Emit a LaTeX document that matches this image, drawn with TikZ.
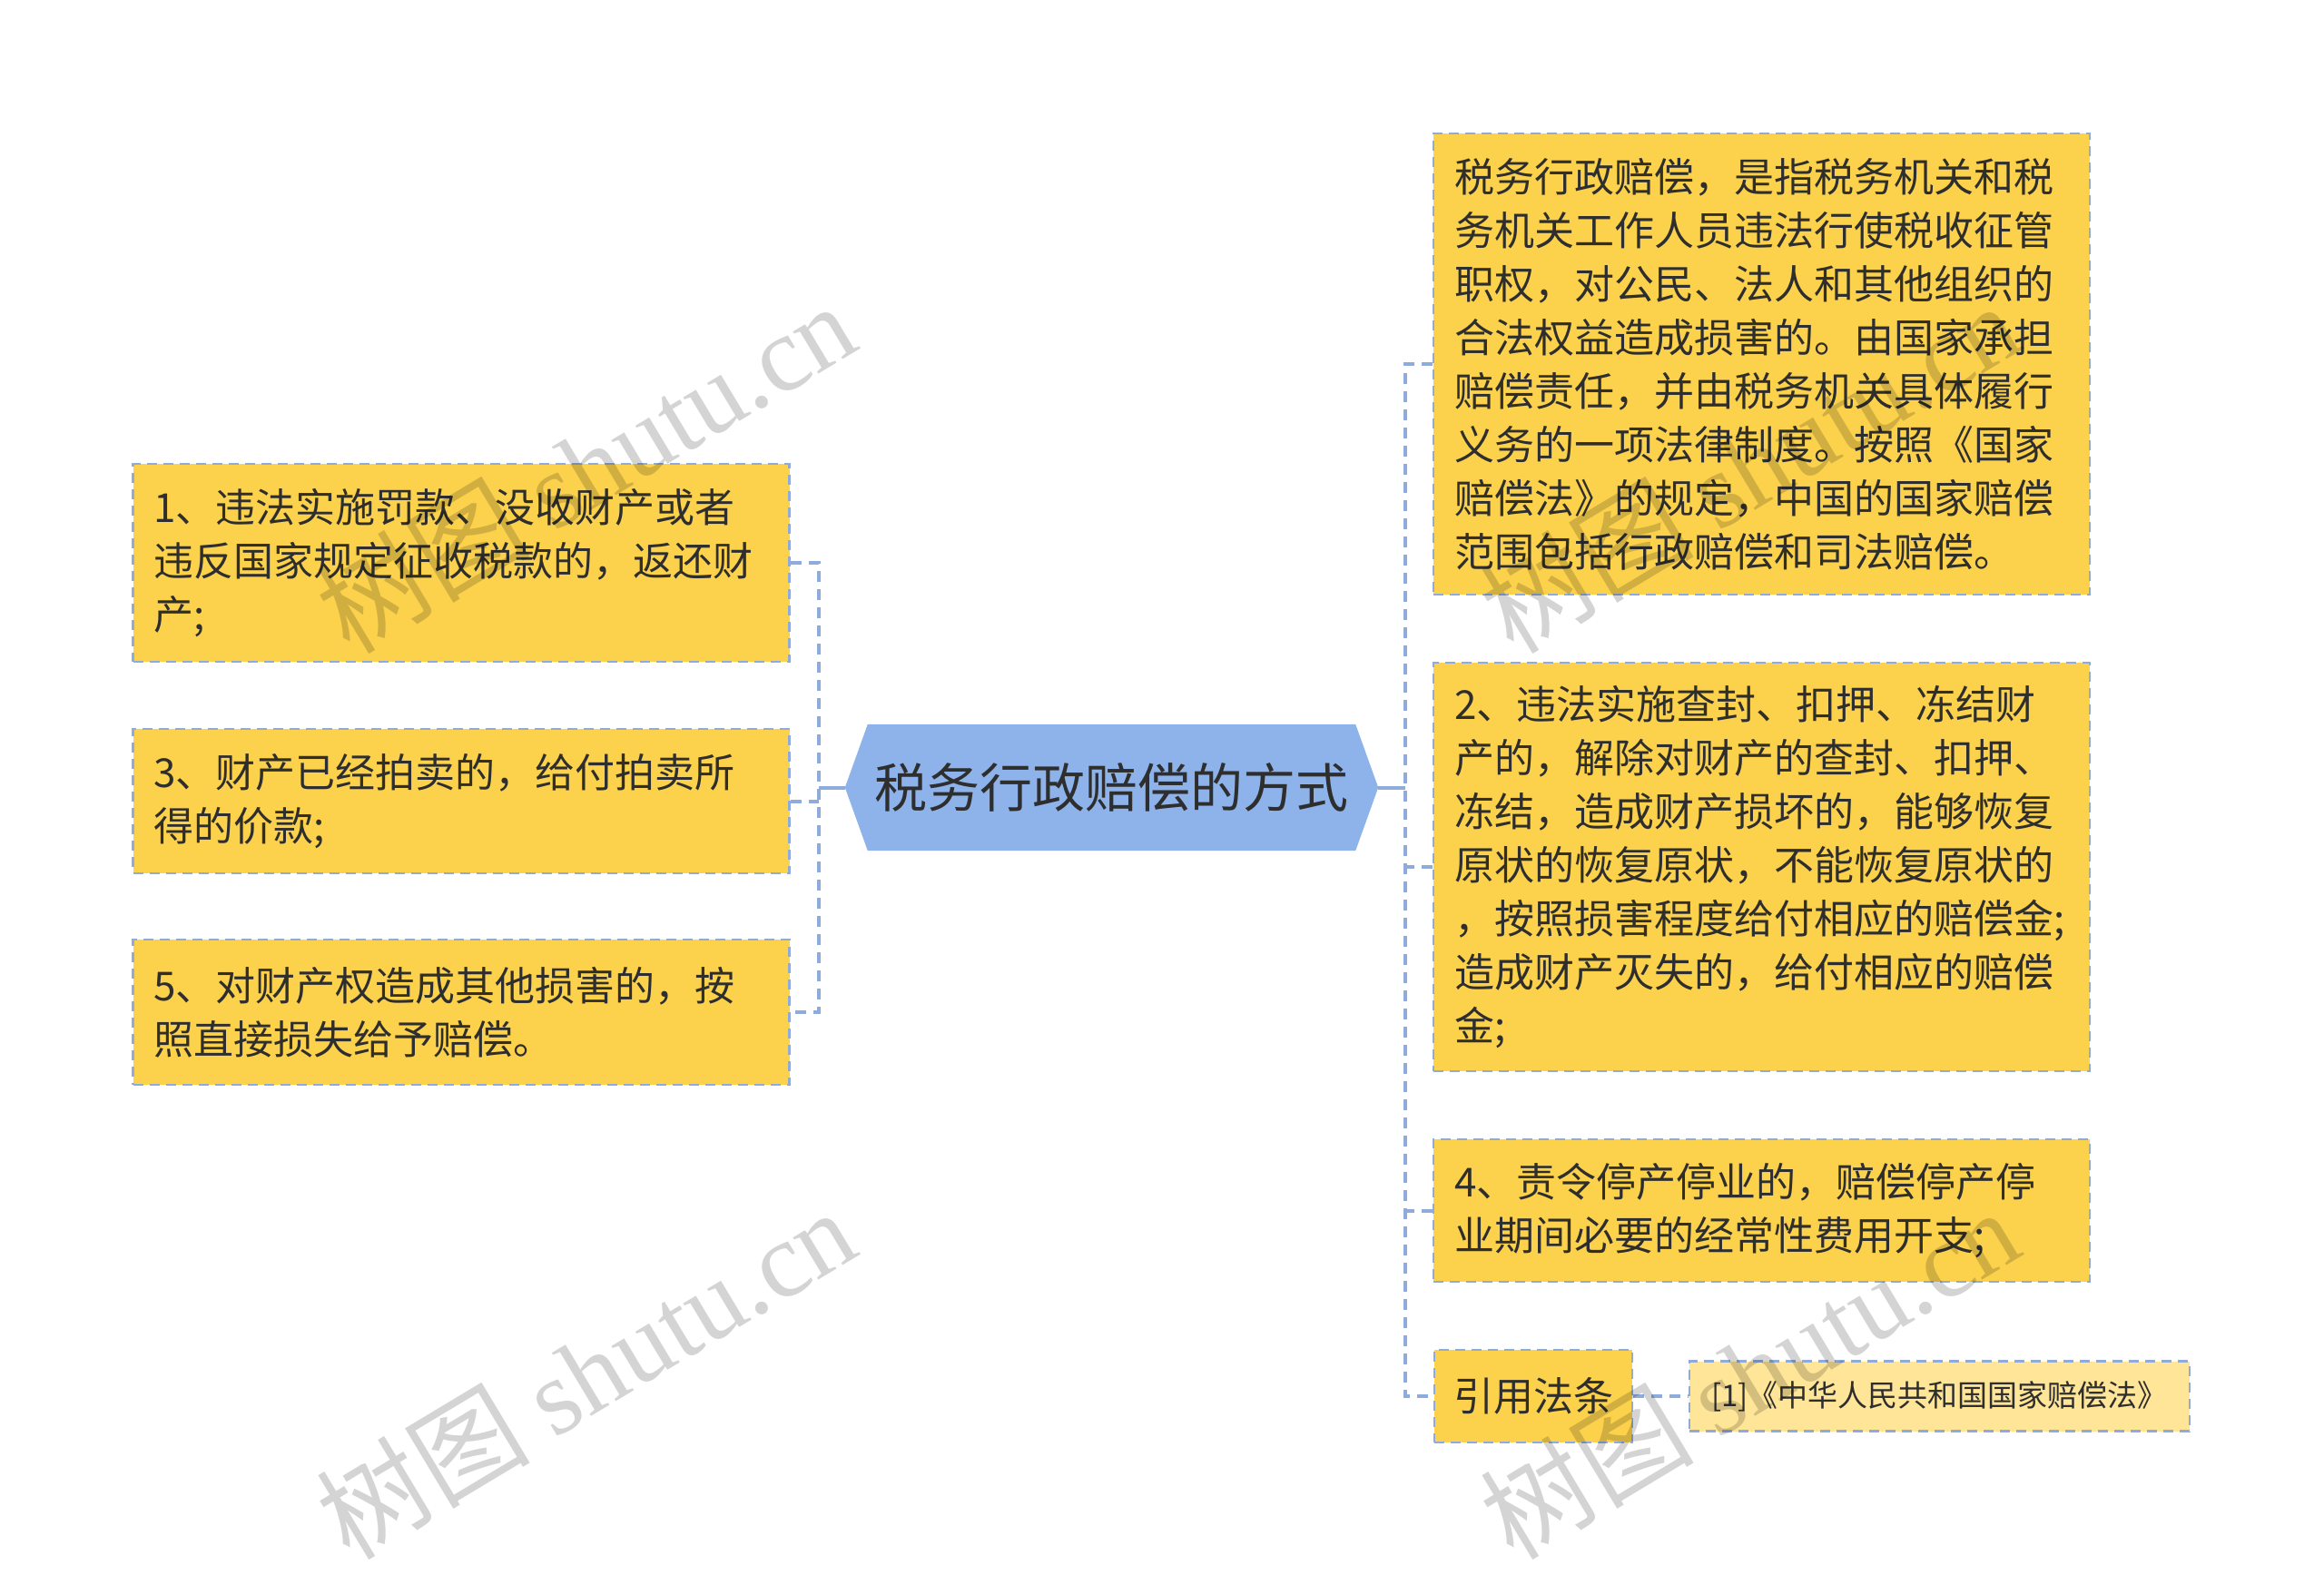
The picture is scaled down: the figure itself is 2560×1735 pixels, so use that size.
\documentclass[tikz,border=0pt]{standalone}
\usepackage{fontspec}
\setmainfont{Noto Sans CJK SC}
\newfontfamily\wmlatin{Liberation Serif}
\definecolor{boxfill}{HTML}{FCD24D}
\definecolor{citefill}{HTML}{FFE598}
\definecolor{bordercol}{HTML}{8FABDC}
\definecolor{hexfill}{HTML}{8EB3EA}
\definecolor{txt}{HTML}{2E2E2E}
\begin{document}
\begin{tikzpicture}[x=1pt,y=-1pt,
  box/.style={draw=bordercol, line width=2.5pt, dash pattern=on 11pt off 7pt,
    fill=boxfill, text=txt, align=left, text width=677pt, inner xsep=23pt,
    inner ysep=0pt, minimum width=723pt, font=\fontsize{44}{59}\selectfont},
  smallbox/.style={draw=bordercol, line width=2.5pt, dash pattern=on 11pt off 7pt,
    fill=boxfill, text=txt, align=center, inner sep=0pt, font=\fontsize{44}{59}\selectfont},
  citebox/.style={draw=bordercol, line width=2.5pt, dash pattern=on 11pt off 7pt,
    fill=citefill, text=txt, align=center, inner sep=0pt, font=\fontsize{33}{40}\selectfont},
  dconn/.style={draw=bordercol, line width=4pt, dash pattern=on 12pt off 8pt},
  sconn/.style={draw=bordercol, line width=4pt},
  wm/.style={text=black, text opacity=0.17, rotate=31, inner sep=0pt,
    font=\fontsize{118}{124}\selectfont}
]
\useasboundingbox (0,0) rectangle (2560,1735);

% central node
\node[minimum width=587pt, minimum height=139pt, inner sep=0pt] (center) at (1224.5,867.5) {};
\fill[hexfill] (center.west) -- ([xshift=25pt]center.north west) -- ([xshift=-25pt]center.north east)
  -- (center.east) -- ([xshift=-25pt]center.south east) -- ([xshift=25pt]center.south west) -- cycle;
\node[text=txt, font=\fontsize{58}{64}\selectfont, inner sep=0pt] (centertext) at (center) {税务行政赔偿的方式};

% left boxes
\node[box, minimum height=218pt] (b1) at (508,620) {1、违法实施罚款、没收财产或者\\违反国家规定征收税款的，返还财\\产;};
\node[box, minimum height=159pt] (b3) at (508,882.5) {3、财产已经拍卖的，给付拍卖所\\得的价款;};
\node[box, minimum height=160pt] (b5) at (508,1115) {5、对财产权造成其他损害的，按\\照直接损失给予赔偿。};

% right boxes
\node[box, minimum height=508pt] (bA) at (1940.5,401) {税务行政赔偿，是指税务机关和税\\务机关工作人员违法行使税收征管\\职权，对公民、法人和其他组织的\\合法权益造成损害的。由国家承担\\赔偿责任，并由税务机关具体履行\\义务的一项法律制度。按照《国家\\赔偿法》的规定，中国的国家赔偿\\范围包括行政赔偿和司法赔偿。};
\node[box, minimum height=450pt] (b2) at (1940.5,955) {2、违法实施查封、扣押、冻结财\\产的，解除对财产的查封、扣押、\\冻结，造成财产损坏的，能够恢复\\原状的恢复原状，不能恢复原状的\\，按照损害程度给付相应的赔偿金;\\造成财产灭失的，给付相应的赔偿\\金;};
\node[box, minimum height=157pt] (b4) at (1940.5,1333.5) {4、责令停产停业的，赔偿停产停\\业期间必要的经常性费用开支;};
\node[smallbox, minimum width=218pt, minimum height=102pt] (law) at (1689,1538) {引用法条};
\node[citebox, minimum width=551pt, minimum height=77pt] (cite) at (2136.5,1538) {[1]《中华人民共和国国家赔偿法》};

% connectors
\coordinate (lbus) at (902,867.5);
\coordinate (rbus) at (1548,867.5);
\draw[sconn] (center.west) -- (lbus);
\draw[sconn] (center.east) -- (rbus);
\draw[dconn] (b1.east) -- (b1.east -| lbus) -- (b5.east -| lbus) -- (b5.east);
\draw[dconn] (b3.east) -- (b3.east -| lbus);
\draw[dconn] (bA.west) -- (bA.west -| rbus) -- (law.west -| rbus) -- (law.west);
\draw[dconn] (b2.west) -- (b2.west -| rbus);
\draw[dconn] (b4.west) -- (b4.west -| rbus);
\draw[dconn] (law.east) -- (cite.west);

% watermarks
\node[wm] (wm1) at (645,514) {树图 {\wmlatin shutu.cn}};
\node[wm] (wm2) at (645,1512) {树图 {\wmlatin shutu.cn}};
\node[wm] (wm3) at (1927,514) {树图 {\wmlatin shutu.cn}};
\node[wm] (wm4) at (1927,1512) {树图 {\wmlatin shutu.cn}};
\end{tikzpicture}
\end{document}
